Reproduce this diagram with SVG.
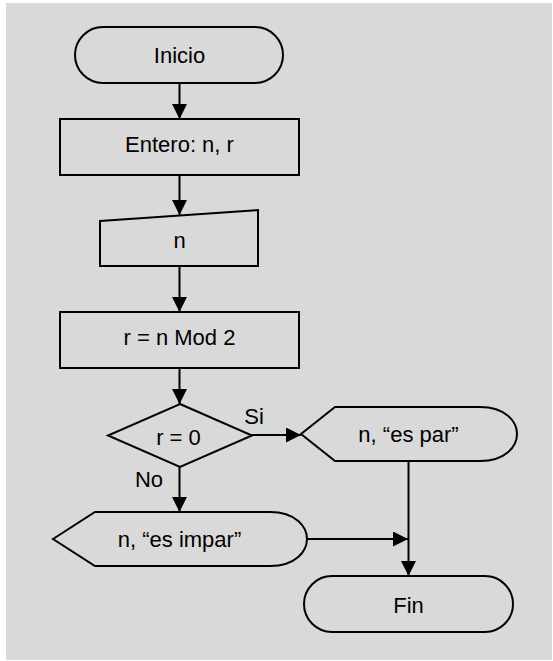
<svg xmlns="http://www.w3.org/2000/svg" width="553" height="661" viewBox="0 0 553 661">
  <defs>
    <marker id="arrow" markerUnits="userSpaceOnUse" markerWidth="16" markerHeight="16" refX="15" refY="7.5" orient="auto">
      <path d="M0,0 L15,7.5 L0,15 z" fill="#000"/>
    </marker>
    <style>
      .shape { fill: #d9d9d9; stroke: #000; stroke-width: 2; stroke-linejoin: miter; }
      .label { font-family: "Liberation Sans", Arial, sans-serif; font-size: 22px; fill: #000; text-anchor: middle; }
      .edge { fill: none; stroke: #000; stroke-width: 2; marker-end: url(#arrow); }
      .line { fill: none; stroke: #000; stroke-width: 2; }
    </style>
  </defs>

  <!-- page background -->
  <rect x="6" y="3" width="546" height="657" fill="#d9d9d9"/>

  <!-- connectors -->
  <g id="connectors">
    <line class="edge" x1="179.5" y1="83" x2="179.5" y2="119"/>
    <line class="edge" x1="179.5" y1="175" x2="179.5" y2="215"/>
    <line class="edge" x1="179.5" y1="266" x2="179.5" y2="312"/>
    <line class="edge" x1="179.5" y1="368" x2="179.5" y2="404"/>
    <line class="edge" x1="252" y1="435" x2="301" y2="435"/>
    <line class="edge" x1="179.5" y1="467" x2="179.5" y2="512"/>
    <line class="edge" x1="408.5" y1="461" x2="408.5" y2="576"/>
    <line class="edge" x1="307" y1="539" x2="408" y2="539"/>
    <text class="label" x="254" y="424">Si</text>
    <text class="label" x="149" y="487">No</text>
  </g>

  <g id="inicio">
    <rect class="shape" x="75" y="27" width="208" height="56" rx="28" ry="28"/>
    <text class="label" x="179.5" y="63">Inicio</text>
  </g>

  <g id="declaracion">
    <rect class="shape" x="60" y="119" width="239" height="56"/>
    <text class="label" x="179.5" y="152">Entero: n, r</text>
  </g>

  <g id="lectura">
    <path class="shape" d="M100,221 L258,210 L258,266 L100,266 Z"/>
    <text class="label" x="179.5" y="248">n</text>
  </g>

  <g id="calculo">
    <rect class="shape" x="60" y="312" width="239" height="56"/>
    <text class="label" x="179.5" y="345">r = n Mod 2</text>
  </g>

  <g id="decision">
    <path class="shape" d="M180,404 L252,435.5 L180,467 L108,435.5 Z"/>
    <text class="label" x="178.5" y="445">r = 0</text>
  </g>

  <g id="salida-par">
    <path class="shape" d="M301,434 L335,407 L480,407 C506,407 517,422 517,434 C517,446 506,461 480,461 L335,461 Z"/>
    <text class="label" x="408.5" y="442">n, “es par”</text>
  </g>

  <g id="salida-impar">
    <path class="shape" d="M53,539 L95,512 L270,512 C296,512 307,527 307,539 C307,551 296,566 270,566 L95,566 Z"/>
    <text class="label" x="179.5" y="547">n, “es impar”</text>
  </g>

  <g id="fin">
    <rect class="shape" x="304" y="576" width="209" height="56" rx="28" ry="28"/>
    <text class="label" x="408.5" y="613">Fin</text>
  </g>
</svg>
